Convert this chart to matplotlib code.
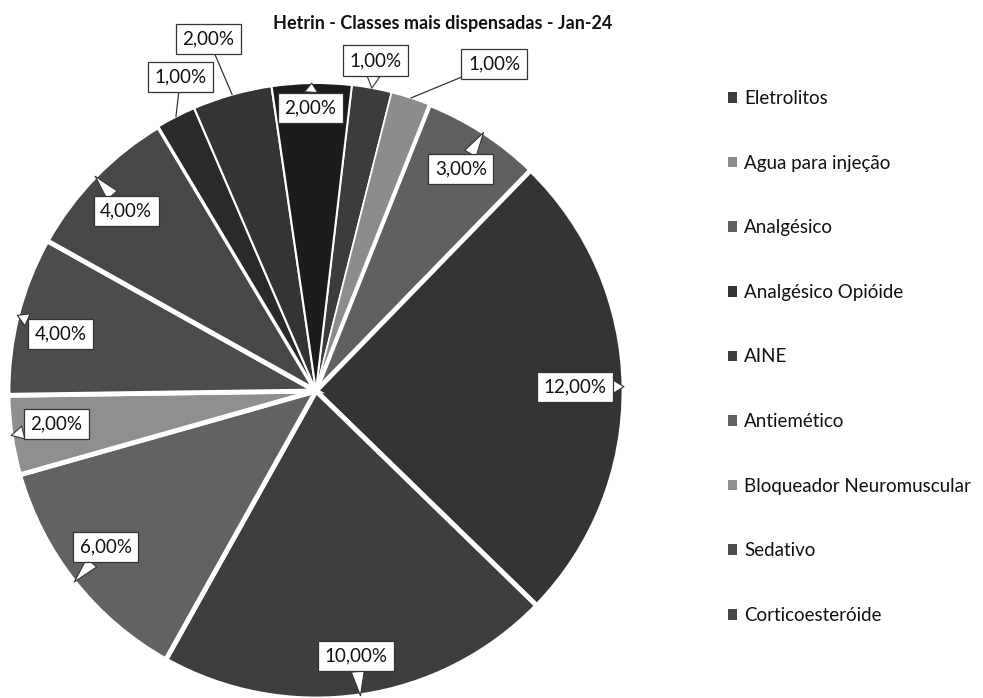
import matplotlib
matplotlib.use("Agg")
import matplotlib.pyplot as plt
from matplotlib.patches import Patch
import numpy as np

plt.rcParams['font.family'] = ['Lato', 'DejaVu Sans']

title = "Hetrin - Classes mais dispensadas - Jan-24"
classes = ["Eletrolitos", "Agua para injeção", "Analgésico", "Analgésico Opióide",
           "AINE", "Antiemético", "Bloqueador Neuromuscular", "Sedativo",
           "Corticoesteróide", "Anticoagulante", "Antibiótico", "Antiácido"]
shares = [1, 1, 3, 12, 10, 6, 2, 4, 4, 1, 2, 2]
legend_count = 9

slice_colors = ["#3c3c3c", "#8c8c8c", "#606060", "#343434", "#3e3e3e", "#626262",
                "#8f8f8f", "#4c4c4c", "#474747", "#2a2a2a", "#343434", "#1c1c1c"]
edge_widths = [1.2, 1.2, 3.0, 3.5, 3.5, 3.5, 3.5, 3.5, 3.5, 1.5, 1.5, 1.5]

# callout placement: radial distance of the box, angular shift from the slice middle
label_r = [1.09, 1.21, 0.86, 0.84, 0.87, 0.85, 0.85, 0.85, 0.85, 1.11, 1.195, 0.92]
label_dang = [0.3, -10.6, -0.2, 0.1, 0.3, -1.7, -1.0, 1.6, 0.7, -3.7, 1.2, 0.4]
leader_line = [False, True, False, False, False, False, False, False, False, True, True, False]

W, H = 983, 698
fig = plt.figure(figsize=(W / 100, H / 100), dpi=100)
cx, cy, rad = 316, 391, 308
ax = fig.add_axes([(cx - rad) / W, (H - cy - rad) / H, 2 * rad / W, 2 * rad / H])

wedges, _ = ax.pie(shares, colors=slice_colors, startangle=83.3, counterclock=False,
                   radius=1.0, wedgeprops=dict(edgecolor="white"))
for w, lw in zip(wedges, edge_widths):
    w.set_linewidth(lw)

ax.set_xlim(-1, 1)
ax.set_ylim(-1, 1)
ax.set_aspect("equal")
ax.axis("off")

for w, v, r, da, line in zip(wedges, shares, label_r, label_dang, leader_line):
    mid = np.deg2rad((w.theta1 + w.theta2) / 2)
    la = mid + np.deg2rad(da)
    tip = (np.cos(mid), np.sin(mid))
    pos = (r * np.cos(la), r * np.sin(la))
    text = f"{v:.2f}%".replace(".", ",")
    if line:
        arrow = dict(arrowstyle="-", color="#333333", lw=0.9, shrinkA=0, shrinkB=0)
    else:
        arrow = dict(arrowstyle="wedge,tail_width=0.7,shrink_factor=0.5",
                     fc="white", ec="#333333", lw=0.8, shrinkA=0, shrinkB=0)
    ax.annotate(text, xy=tip, xytext=pos, ha="center", va="center", fontsize=13.5,
                color="#111111",
                bbox=dict(boxstyle="square,pad=0.35", fc="white", ec="#333333", lw=0.9),
                arrowprops=arrow, annotation_clip=False)

fig.text(443 / W, 1 - 24 / H, title, ha="center", va="center",
         fontweight="bold", fontsize=13, color="#111111")

handles = [Patch(facecolor=w.get_facecolor(), edgecolor="none")
           for w in wedges[:legend_count]]
fig.legend(handles, classes[:legend_count], loc="upper left",
           bbox_to_anchor=(728 / W, 1 - 90 / H), frameon=False, fontsize=13.5,
           handlelength=0.5, handleheight=0.5, handletextpad=0.35,
           labelspacing=2.54, borderpad=0, borderaxespad=0, labelcolor="#111111")

fig.savefig("out.png", dpi=100, facecolor="white")
